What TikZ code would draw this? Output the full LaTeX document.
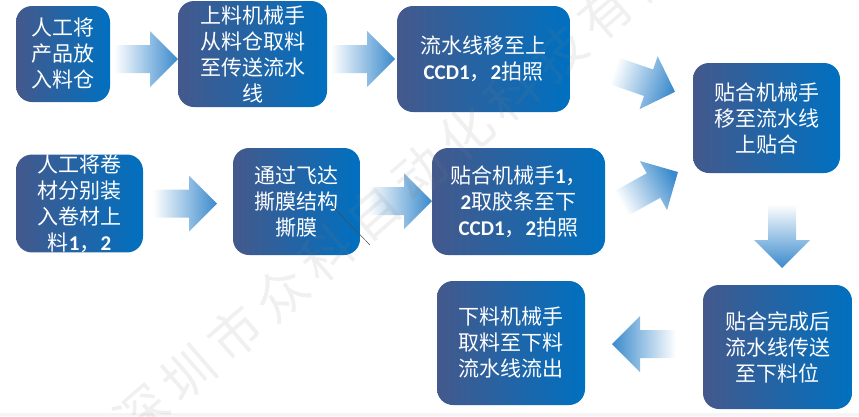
\documentclass[tikz,border=0pt]{standalone}
\usepackage{fontspec}
\setmainfont{Noto Sans CJK SC}
\newfontfamily\numfont{Carlito}
\newcommand{\nb}[1]{{\numfont\bfseries #1}}

\definecolor{boxleft}{RGB}{68,89,140}
\definecolor{boxright}{RGB}{0,112,192}
\definecolor{arrowblue}{RGB}{58,138,204}

\tikzset{
  stepbox/.style={rounded corners=16pt, left color=boxleft, right color=boxright,
    text=white, align=center, inner sep=0pt, font=\fontsize{21}{26}\selectfont},
  wmark/.style={text=gray, opacity=0.12, inner sep=0pt, font=\fontsize{52}{52}\selectfont}
}

% block arrow: tail point, direction
\newcommand{\flowarrow}[2]{%
  \pgfmathsetmacro\shadeang{90+#2}
  \shade[left color=white, right color=arrowblue, shading angle=\shadeang, shift={(#1)}, rotate=#2]
    (0,-14) -- (36,-14) -- (36,-28) -- (64,0) -- (36,28) -- (36,14) -- (0,14) -- cycle;}

\begin{document}
\begin{tikzpicture}[x=1pt,y=-1pt]
	\useasboundingbox (0,0) rectangle (859,416);
	\fill[gray!8] (0,413) rectangle (859,416);

	% upper row
	\node[stepbox, minimum width=94pt, minimum height=96pt] (manual) at (63,54) {人工将\\产品放\\入料仓};
	\node[stepbox, minimum width=149pt, minimum height=106pt] (feeder) at (252.5,54) {上料机械手\\从料仓取料\\至传送流水\\线};
	\node[stepbox, minimum width=173pt, minimum height=106pt] (upccd) at (483.5,59) {流水线移至上\\\nb{CCD1}，\nb{2}拍照};
	\node[stepbox, minimum width=147pt, minimum height=110pt] (bond) at (766.5,118) {贴合机械手\\移至流水线\\上贴合};

	% lower row
	\node[stepbox, minimum width=127pt, minimum height=97pt] (reel) at (79.5,203.5) {人工将卷\\材分别装\\入卷材上\\料\nb{1}，\nb{2}};
	\node[stepbox, minimum width=127pt, minimum height=107pt] (peel) at (296.5,201.5) {通过飞达\\撕膜结构\\撕膜};
	\node[stepbox, minimum width=173pt, minimum height=107pt] (downccd) at (518.5,201.5) {贴合机械手\nb{1}，\\\nb{2}取胶条至下\\\nb{CCD1}，\nb{2}拍照};

	% output
	\node[stepbox, minimum width=149pt, minimum height=124pt] (transfer) at (777.5,347) {贴合完成后\\流水线传送\\至下料位};
	\node[stepbox, minimum width=148pt, minimum height=124pt] (unload) at (511,343) {下料机械手\\取料至下料\\流水线流出};

	% arrows
	\flowarrow{114,59}{0}
	\flowarrow{331,59}{0}
	\flowarrow{614.5,71}{-19}
	\flowarrow{622,203}{29}
	\flowarrow{153,203.5}{0}
	\flowarrow{368,201}{0}
	\flowarrow{782,204}{-90}
	\flowarrow{676,344}{180}

	\draw[black!70, line width=0.5pt] (333,207) -- (370,245);

	% watermark
	\begin{scope}
	\clip (0,0) rectangle (859,416);
	\foreach \ch [count=\i from 0] in {深,圳,市,众,科,自,动,化,科,技,有,限}
		\node[wmark, rotate=41] (wm\i) at ({142+46.3*\i},{413-40*\i}) {\ch};
	\end{scope}
\end{tikzpicture}
\end{document}
